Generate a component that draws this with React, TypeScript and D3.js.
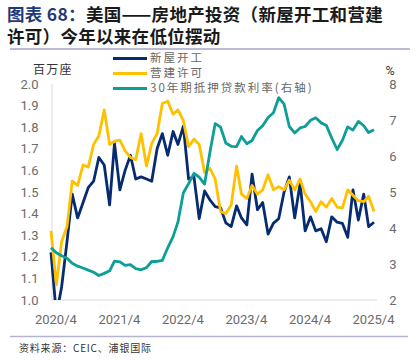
import React, { useEffect, useRef } from 'react';
import * as d3 from 'd3';

// monthly data, 2020/3 .. 2025/4
const startMonth = '2020/3';
const endMonth = '2025/4';
const xTickLabels = ['2020/4', '2021/4', '2022/4', '2023/4', '2024/4', '2025/4'];
const leftTicks = [1.0, 1.1, 1.2, 1.3, 1.4, 1.5, 1.6, 1.7, 1.8, 1.9, 2.0];
const rightTicks = [2, 3, 4, 5, 6, 7, 8];

// 新屋开工 (百万座)
const housingStarts = [
  1.22, 0.93, 1.06, 1.27, 1.49, 1.38, 1.45, 1.52, 1.55, 1.66,
  1.625, 1.44, 1.725, 1.51, 1.6, 1.67, 1.56, 1.57, 1.56, 1.55, 1.7, 1.77,
  1.67, 1.78, 1.72, 1.805, 1.56, 1.57, 1.377, 1.505, 1.463, 1.432, 1.427, 1.357,
  1.34, 1.436, 1.38, 1.348, 1.583, 1.418, 1.451, 1.305, 1.356, 1.376, 1.5, 1.57,
  1.38, 1.54, 1.32, 1.385, 1.32, 1.33, 1.27, 1.385, 1.36, 1.355, 1.29, 1.51,
  1.37, 1.49, 1.34, 1.36,
];

// 营建许可 (百万座)
const buildingPermits = [
  1.32, 1.07, 1.27, 1.34, 1.55, 1.53, 1.625, 1.615, 1.72, 1.76,
  1.88, 1.72, 1.735, 1.74, 1.69, 1.66, 1.65, 1.77, 1.62, 1.725, 1.77, 1.91,
  1.92, 1.86, 1.88, 1.83, 1.71, 1.745, 1.72, 1.59, 1.61, 1.56, 1.41, 1.4,
  1.44, 1.62, 1.49, 1.47, 1.53, 1.49, 1.51, 1.58, 1.51, 1.525, 1.51, 1.555,
  1.51, 1.56, 1.49, 1.455, 1.41, 1.455, 1.43, 1.47, 1.43, 1.425, 1.51, 1.485,
  1.46, 1.455, 1.48, 1.41,
];

// 30年期抵押贷款利率 (%, 右轴)
const mortgageRate = [
  3.45, 3.31, 3.23, 3.16, 3.02, 2.94, 2.89, 2.83, 2.77, 2.68,
  2.74, 2.81, 3.08, 3.06, 2.96, 2.98, 2.87, 2.84, 2.9, 3.07, 3.07, 3.1,
  3.45, 3.76, 4.17, 4.98, 5.23, 5.52, 5.41, 5.22, 6.11, 6.9, 6.8, 6.36,
  6.27, 6.26, 6.54, 6.34, 6.43, 6.71, 6.84, 7.07, 7.2, 7.62, 7.44, 6.82,
  6.64, 6.78, 6.82, 6.99, 7.06, 6.92, 6.85, 6.5, 6.18, 6.43, 6.81, 6.72,
  6.96, 6.84, 6.65, 6.73,
];

const seriesNames = ['新屋开工', '营建许可', '30年期抵押贷款利率(右轴)'];
const seriesColors = ['#062B70', '#FFC000', '#0C9E97'];

const cjk = '"Noto Sans CJK SC", sans-serif';
const num = 'Roboto, "Liberation Sans", sans-serif';

export default function App() {
  const svgRef = useRef<SVGSVGElement>(null);

  useEffect(() => {
    if (!svgRef.current) return;
    const svg = d3.select(svgRef.current);
    svg.selectAll('*').remove();

    const parse = d3.timeParse('%Y/%m');
    const months = d3.timeMonth.range(
      parse(startMonth)!,
      d3.timeMonth.offset(parse(endMonth)!, 1)
    );

    const plot = { left: 52, right: 377, top: 84, bottom: 300 };

    const x = d3
      .scaleTime()
      .domain([months[0], months[months.length - 1]])
      .range([51, 374]);
    const yL = d3.scaleLinear().domain([1, 2]).range([plot.bottom, plot.top]);
    const yR = d3.scaleLinear().domain([2, 8]).range([plot.bottom, plot.top]);

    svg
      .append('rect')
      .attr('width', 420)
      .attr('height', 360)
      .attr('fill', '#fff');

    svg
      .append('defs')
      .append('clipPath')
      .attr('id', 'plot-clip')
      .append('rect')
      .attr('x', 40)
      .attr('y', 60)
      .attr('width', 350)
      .attr('height', plot.bottom - 60);

    // axis lines
    svg
      .append('line')
      .attr('x1', plot.left)
      .attr('x2', plot.right)
      .attr('y1', plot.bottom)
      .attr('y2', plot.bottom)
      .attr('stroke', '#D9D9D9')
      .attr('stroke-width', 1);
    svg
      .append('line')
      .attr('x1', plot.left)
      .attr('x2', plot.left)
      .attr('y1', plot.top)
      .attr('y2', plot.bottom)
      .attr('stroke', '#D9D9D9')
      .attr('stroke-width', 1);

    // left ticks
    svg
      .append('g')
      .selectAll('text')
      .data(leftTicks)
      .enter()
      .append('text')
      .attr('x', 38.5)
      .attr('y', (d) => yL(d))
      .attr('dy', '0.35em')
      .attr('text-anchor', 'end')
      .attr('font-family', num)
      .attr('font-size', 13)
      .attr('fill', '#6B6B6B')
      .text((d) => d.toFixed(1));

    // right ticks
    svg
      .append('g')
      .selectAll('text')
      .data(rightTicks)
      .enter()
      .append('text')
      .attr('x', 393)
      .attr('y', (d) => yR(d))
      .attr('dy', '0.35em')
      .attr('text-anchor', 'middle')
      .attr('font-family', num)
      .attr('font-size', 13)
      .attr('fill', '#6B6B6B')
      .text((d) => d);

    // x ticks
    svg
      .append('g')
      .selectAll('text')
      .data(xTickLabels)
      .enter()
      .append('text')
      .attr('x', (d) => x(parse(d)!) - 0.5)
      .attr('y', 319)
      .attr('dy', '0.35em')
      .attr('text-anchor', 'middle')
      .attr('font-family', num)
      .attr('font-size', 13)
      .attr('fill', '#6B6B6B')
      .text((d) => d);

    // units
    svg
      .append('text')
      .attr('x', 33)
      .attr('y', 69.5)
      .attr('dy', '0.35em')
      .attr('font-family', cjk)
      .attr('font-size', 12)
      .attr('letter-spacing', 1.3)
      .attr('fill', '#333')
      .text('百万座');
    svg
      .append('text')
      .attr('x', 390)
      .attr('y', 71)
      .attr('dy', '0.35em')
      .attr('text-anchor', 'middle')
      .attr('font-family', num)
      .attr('font-size', 12.5)
      .attr('fill', '#333')
      .text('%');

    // lines
    const g = svg.append('g').attr('clip-path', 'url(#plot-clip)');
    const lineLeft = d3
      .line<number>()
      .x((_, i) => x(months[i]))
      .y((d) => yL(d));
    const lineRight = d3
      .line<number>()
      .x((_, i) => x(months[i]))
      .y((d) => yR(d));

    [
      { data: housingStarts, line: lineLeft, color: seriesColors[0] },
      { data: buildingPermits, line: lineLeft, color: seriesColors[1] },
      { data: mortgageRate, line: lineRight, color: seriesColors[2] },
    ].forEach((s) => {
      g.append('path')
        .datum(s.data)
        .attr('fill', 'none')
        .attr('stroke', s.color)
        .attr('stroke-width', 2.8)
        .attr('stroke-linejoin', 'round')
        .attr('d', s.line);
    });

    // legend
    const legend = svg
      .append('g')
      .selectAll('g')
      .data(seriesNames)
      .enter()
      .append('g')
      .attr('transform', (_, i) => `translate(113,${58.5 + i * 15})`);
    legend
      .append('line')
      .attr('x1', 0)
      .attr('x2', 34)
      .attr('stroke', (_, i) => seriesColors[i])
      .attr('stroke-width', 3);
    legend
      .append('text')
      .attr('x', 37)
      .attr('y', -0.5)
      .attr('dy', '0.35em')
      .attr('font-family', cjk)
      .attr('font-size', 11.5)
      .attr('letter-spacing', 2)
      .attr('fill', '#666')
      .text((d) => d);

    // title
    const title = svg
      .append('text')
      .attr('font-family', cjk)
      .attr('font-size', 17.5)
      .attr('font-weight', 'bold')
      .attr('letter-spacing', 0.3);
    const t1 = title.append('tspan').attr('x', 7).attr('y', 21);
    t1.append('tspan').attr('fill', '#1E3A78').text('图表 68：');
    t1.append('tspan').attr('fill', '#1a1a1a').text('美国——房地产投资（新屋开工和营建');
    title
      .append('tspan')
      .attr('x', 7)
      .attr('y', 43)
      .attr('fill', '#1a1a1a')
      .text('许可）今年以来在低位摆动');

    svg
      .append('line')
      .attr('x1', 10)
      .attr('x2', 410)
      .attr('y1', 49)
      .attr('y2', 49)
      .attr('stroke', '#A4A4C4')
      .attr('stroke-width', 1.5);

    // footer
    svg
      .append('line')
      .attr('x1', 10)
      .attr('x2', 408)
      .attr('y1', 336.5)
      .attr('y2', 336.5)
      .attr('stroke', '#B4B4CE')
      .attr('stroke-width', 1.5);
    svg
      .append('text')
      .attr('x', 19)
      .attr('y', 348)
      .attr('dy', '0.35em')
      .attr('font-family', cjk)
      .attr('font-size', 10)
      .attr('letter-spacing', 0.8)
      .attr('fill', '#333')
      .text('资料来源：CEIC、浦银国际');
  }, []);

  return (
    <div style={{ position: 'absolute', left: 0, top: 0 }}>
      <svg ref={svgRef} width={420} height={360} style={{ display: 'block' }} />
    </div>
  );
}
